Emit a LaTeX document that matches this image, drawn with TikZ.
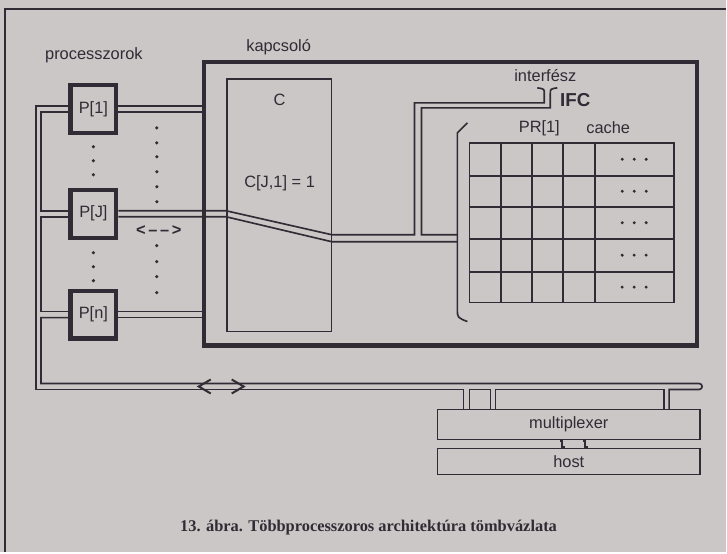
\documentclass[tikz,border=0pt]{standalone}
\usepackage{fontspec}
\setmainfont{Liberation Sans}
\newfontfamily\capfont{Liberation Serif}
\usepackage{tikz}
\usetikzlibrary{calc}
\definecolor{paper}{RGB}{203,199,198}
\definecolor{ink}{RGB}{48,43,52}

\begin{document}
\begin{tikzpicture}[
    x=0.03cm, y=-0.03cm,
    font=\fontsize{14}{16}\selectfont,
    proc/.style={draw=ink, line width=3.6pt, minimum width=1.38cm, minimum height=1.44cm, inner sep=0pt, text=ink},
    switchbox/.style={draw=ink, line width=3.6pt, minimum width=14.82cm, minimum height=8.52cm, inner sep=0pt},
    thinbox/.style={draw=ink, line width=1.4pt, inner sep=0pt, text=ink},
    bus/.style={draw=ink, line width=1.4pt},
    gridline/.style={draw=ink, line width=1.5pt},
    chevron/.style={draw=ink, line width=1.7pt},
    ptdot/.style={fill=ink},
    note/.style={text=ink, inner sep=0pt, align=center}
]

\fill[paper] (0,0) rectangle (727,553);
\draw[ink, line width=1.6pt] (5,553) -- (5,9) -- (727,9);

\node[note] (plbl) at (94,55) {processzorok};
\node[note] (swlbl) at (279,47) {kapcsoló};

\node[proc] (p1) at (93.5,109) {P[1]};
\node[proc] (pJ) at (93.5,214) {P[J]};
\node[proc] (pn) at (93.5,315) {P[n]};

\node[switchbox] (sw) at (451,204) {};
\node[thinbox, minimum width=3.15cm, minimum height=7.59cm] (cmat) at (279.5,205.5) {};
\node[note] (clbl) at (280,100) {C};
\node[note] (cval) at (280,184) {C[J,1] = 1};

\foreach \y in {147,161,175,253,267,281} \fill[ptdot] (93.5,\y) circle (1.5pt);
\foreach \y in {128,143,157,172,187,202,246,262,277,293} \fill[ptdot] (157,\y) circle (1.5pt);
\node[note, font=\fontsize{14}{16}\selectfont\bfseries] (swap) at (159,231) {<\,--\,--\,>};

% processor buses into the switch
\draw[bus] ($(p1.east)+(0,-3)$) -- ($(sw.west|-p1.east)+(0,-3)$);
\draw[bus] ($(p1.east)+(0,3)$) -- ($(sw.west|-p1.east)+(0,3)$);
\draw[bus] ($(pn.east)+(0,-3)$) -- ($(sw.west|-pn.east)+(0,-3)$);
\draw[bus] ($(pn.east)+(0,3)$) -- ($(sw.west|-pn.east)+(0,3)$);

% switched path P[J] -> PR[1], branch to IFC
\draw[bus] ($(pJ.east)+(0,-3)$) -- ($(cmat.west|-pJ.east)+(0,-3)$) -- (332,235) -- (415,235) -- (415,103) -- (545,103) -- (545,94) .. controls (545,89) .. (538,88);
\draw[bus] (458,235) -- (422,235) -- (422,108) -- (551,108) -- (551,94) .. controls (551,89) .. (558,88);
\draw[bus] ($(pJ.east)+(0,3)$) -- ($(cmat.west|-pJ.east)+(0,3)$) -- (332,242) -- (458,242);
\node[note] (iflbl) at (546,76) {interfész};
\node[note, font=\fontsize{16}{18}\selectfont\bfseries] (ifc) at (576,100) {IFC};

% PR[1] cache
\node[note] (prlbl) at (540,128) {PR[1]};
\node[note] (cachelbl) at (609,128) {cache};
\draw[bus] (468,123) -- (458,133) -- (458,310) .. controls (458,318) .. (468,322);
\node[thinbox, minimum width=6.15cm, minimum height=4.8cm] (mem) at (572.5,223) {};
\foreach \x in {502,533,564,596} \draw[gridline] (\x,143) -- (\x,303);
\foreach \y in {176,207,239,272} \draw[gridline] (470,\y) -- (675,\y);
\foreach \y in {159.5,191.5,223,255.5,287.5}
  \foreach \x in {623,635,647} \fill[ptdot] (\x,\y) circle (1.4pt);

% host bus
\draw[bus] ($(p1.west)+(0,-3)$) -- (36,106) -- (36,390) -- (464,390) -- (464,410);
\draw[bus] ($(p1.west)+(0,3)$) -- (41,112) -- (41,211) -- ($(pJ.west)+(0,-3)$);
\draw[bus] ($(pJ.west)+(0,3)$) -- (41,217) -- (41,312) -- ($(pn.west)+(0,-3)$);
\draw[bus] ($(pn.west)+(0,3)$) -- (41,318) -- (41,384) -- (700,384) .. controls (704,384) and (704,390) .. (700,390) -- (670,390) -- (670,410);
\draw[bus] (665,410) -- (665,390) -- (496,390) -- (496,410);
\draw[bus] (491,410) -- (491,390) -- (470,390) -- (470,410);
\draw[chevron] (211,380) -- (199,387) -- (211,394);
\draw[chevron] (232,380) -- (244,387) -- (232,394);

\node[thinbox, minimum width=7.89cm, minimum height=0.9cm] (mux) at (569.5,425) {multiplexer};
\node[thinbox, minimum width=7.89cm, minimum height=0.78cm] (host) at (569.5,462) {host};
\foreach \x in {563,586} \draw[bus] ({\x-2.5},441.5) -- (\x,441.5) -- (\x,447.5) -- ({\x+2.5},447.5);

\node[note, font=\capfont\bfseries\fontsize{14}{16}\selectfont] (cap) at (369,528) {13. ábra. Többprocesszoros architektúra tömbvázlata};

\end{tikzpicture}
\end{document}
